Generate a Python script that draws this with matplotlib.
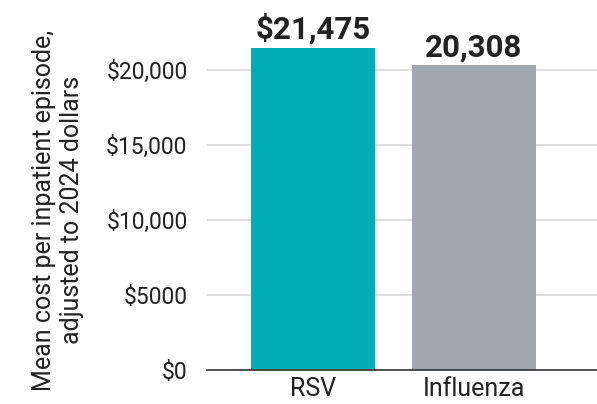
import matplotlib
matplotlib.use("Agg")
import matplotlib.pyplot as plt

plt.rcParams['font.family'] = ['Roboto', 'DejaVu Sans']

categories = ["RSV", "Influenza"]
costs = [21475, 20308]
value_labels = ["$21,475", "20,308"]
colors = ["#00ADB5", "#A1A8B0"]
yticks = [0, 5000, 10000, 15000, 20000]
ytick_labels = ["$0", "$5000", "$10,000", "$15,000", "$20,000"]

fig = plt.figure(figsize=(5.97, 4.04), dpi=100)
ax = fig.add_axes([207 / 597, 34 / 404, 390 / 597, 367 / 404])

x = range(len(categories))
bars = ax.bar(x, costs, width=0.77, color=colors, zorder=3)

for xi, v, lab in zip(x, costs, value_labels):
    ax.text(xi, v + 200, lab, ha="center", va="bottom", fontsize=22.5,
            fontweight="bold", color="#222222")

ax.set_xlim(-0.658, 1.764)
ax.set_ylim(0, 24470)
ax.set_yticks(yticks)
ax.set_yticklabels(ytick_labels)
ax.set_xticks(list(x))
ax.set_xticklabels(categories)
ax.tick_params(axis="both", length=0, colors="#222222")
ax.tick_params(axis="y", labelsize=16.5, pad=14)
ax.tick_params(axis="x", labelsize=18, pad=5)

ax.grid(axis="y", color="#d9d9d9", linewidth=1.2, zorder=0)
for side in ["top", "right", "left"]:
    ax.spines[side].set_visible(False)
ax.spines["bottom"].set_color("#333333")
ax.spines["bottom"].set_linewidth(1.2)
ax.spines["bottom"].set_zorder(4)

ax.set_ylabel("Mean cost per inpatient episode,\nadjusted to 2024 dollars",
              fontsize=18, color="#222222", linespacing=1.2)
ax.yaxis.set_label_coords(-0.316, 0.436)

fig.savefig("out.png", dpi=100)
